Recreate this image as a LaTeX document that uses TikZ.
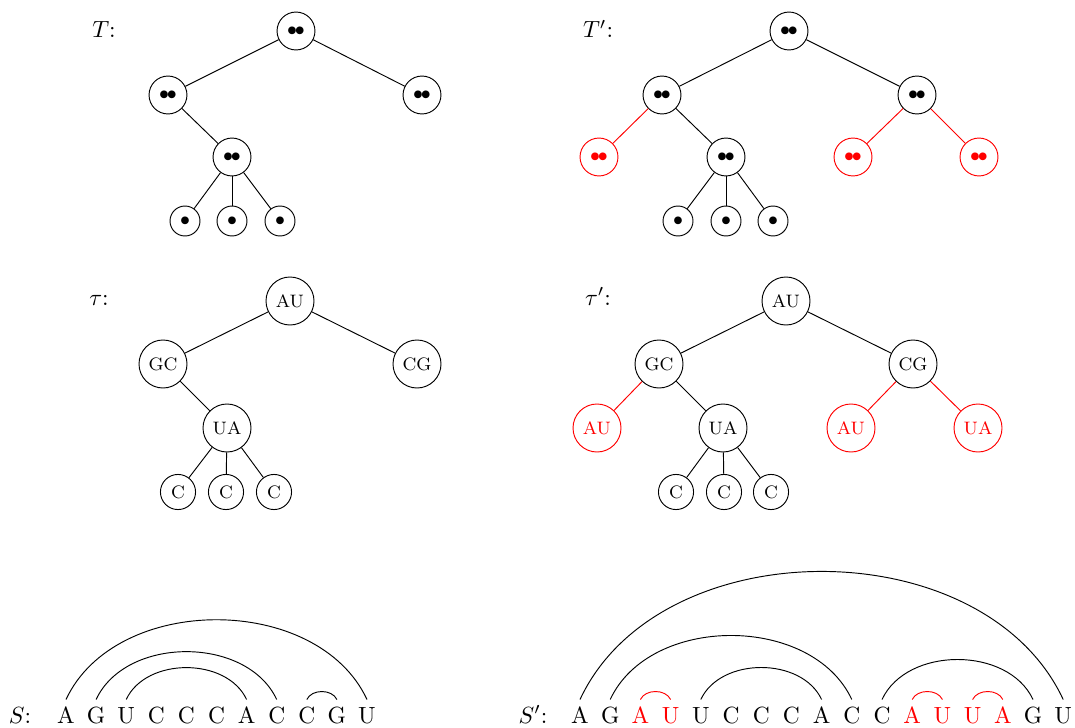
\documentclass[tikz,border=0pt]{standalone}
\newcommand{\pdot}{{\fontsize{8.5}{10}\selectfont${\bullet}\mkern-2mu{\bullet}$}}
\newcommand{\sdot}{{\fontsize{8.5}{10}\selectfont$\bullet$}}
\begin{document}
\begin{tikzpicture}[x=0.427pt,y=-0.427pt,
    big/.style = {draw, circle, minimum size=16.2pt, inner sep=0pt},
    small/.style = {draw, circle, minimum size=12.8pt, inner sep=0pt},
    pair/.style = {draw, circle, minimum size=20.5pt, inner sep=0pt, font=\fontsize{7.7}{9}\selectfont},
    base/.style = {draw, circle, minimum size=15pt, inner sep=0pt, font=\fontsize{7.7}{9}\selectfont},
    new/.style = {red},
    letter/.style = {anchor=base, inner sep=3pt, text height=6.83pt, text depth=0pt},
    bond/.style = {out=65, in=115}]
    \useasboundingbox (0,0) rectangle (1075,727);
    % tree T
    \node[anchor=base] (lT) at (104,38) {$T$:};
    \node[big] (t1) at (296,31) {\pdot};
    \node[big] (t2) at (168,95) {\pdot};
    \node[big] (t3) at (422,95) {\pdot};
    \node[big] (t4) at (232,157) {\pdot};
    \node[small] (t5) at (185,221) {\sdot};
    \node[small] (t6) at (232,221) {\sdot};
    \node[small] (t7) at (280,221) {\sdot};
    \draw (t1) -- (t2);
    \draw (t1) -- (t3);
    \draw (t2) -- (t4);
    \draw (t4) -- (t5);
    \draw (t4) -- (t6);
    \draw (t4) -- (t7);
    % tree T'
    \node[anchor=base] (lT') at (598,38) {$T'$:};
    \node[big] (u1) at (789,31) {\pdot};
    \node[big] (u2) at (662,95) {\pdot};
    \node[big] (u3) at (917,95) {\pdot};
    \node[big,new] (u4) at (599,157) {\pdot};
    \node[big] (u5) at (726,157) {\pdot};
    \node[big,new] (u6) at (853,157) {\pdot};
    \node[big,new] (u7) at (979,157) {\pdot};
    \node[small] (u8) at (678,221) {\sdot};
    \node[small] (u9) at (726,221) {\sdot};
    \node[small] (u10) at (773,221) {\sdot};
    \draw (u1) -- (u2);
    \draw (u1) -- (u3);
    \draw[new] (u2) -- (u4);
    \draw (u2) -- (u5);
    \draw[new] (u3) -- (u6);
    \draw[new] (u3) -- (u7);
    \draw (u5) -- (u8);
    \draw (u5) -- (u9);
    \draw (u5) -- (u10);
    % tree tau
    \node[anchor=base] (ltau) at (99,305) {$\tau$:};
    \node[pair] (a1) at (290,301) {AU};
    \node[pair] (a2) at (163,364) {GC};
    \node[pair] (a3) at (417,364) {CG};
    \node[pair] (a4) at (227,428) {UA};
    \node[base] (a5) at (178,492) {C};
    \node[base] (a6) at (226,492) {C};
    \node[base] (a7) at (274,492) {C};
    \draw (a1) -- (a2);
    \draw (a1) -- (a3);
    \draw (a2) -- (a4);
    \draw (a4) -- (a5);
    \draw (a4) -- (a6);
    \draw (a4) -- (a7);
    % tree tau'
    \node[anchor=base] (ltau') at (598,305) {$\tau'$:};
    \node[pair] (b1) at (786,301) {AU};
    \node[pair] (b2) at (659,364) {GC};
    \node[pair] (b3) at (913,364) {CG};
    \node[pair,new] (b4) at (597,428) {AU};
    \node[pair] (b5) at (723,428) {UA};
    \node[pair,new] (b6) at (851,428) {AU};
    \node[pair,new] (b7) at (978,428) {UA};
    \node[base] (b8) at (676,492) {C};
    \node[base] (b9) at (724,492) {C};
    \node[base] (b10) at (771,492) {C};
    \draw (b1) -- (b2);
    \draw (b1) -- (b3);
    \draw[new] (b2) -- (b4);
    \draw (b2) -- (b5);
    \draw[new] (b3) -- (b6);
    \draw[new] (b3) -- (b7);
    \draw (b5) -- (b8);
    \draw (b5) -- (b9);
    \draw (b5) -- (b10);
    % sequence S
    \node[anchor=base] (lS) at (20,723) {$S$:};
    \foreach \c [count=\i from 0] in {A,G,U,C,C,C,A,C,C,G,U}
        \node[letter] (s\i) at (66+30.1*\i,723) {\c};
    \draw (s0.north) to[bond] (s10.north);
    \draw (s1.north) to[bond] (s7.north);
    \draw (s2.north) to[bond] (s6.north);
    \draw (s8.north) to[bond] (s9.north);
    % sequence S'
    \node[anchor=base] (lS') at (533,723) {$S'$:};
    \foreach \c/\col [count=\i from 0] in {A/black,G/black,A/red,U/red,U/black,C/black,C/black,C/black,A/black,C/black,C/black,A/red,U/red,U/red,A/red,G/black,U/black}
        \node[letter,text=\col] (r\i) at (580+30.2*\i,723) {\c};
    \draw (r0.north) to[bond] (r16.north);
    \draw (r1.north) to[bond] (r9.north);
    \draw[new] (r2.north) to[bond] (r3.north);
    \draw (r4.north) to[bond] (r8.north);
    \draw (r10.north) to[bond] (r15.north);
    \draw[new] (r11.north) to[bond] (r12.north);
    \draw[new] (r13.north) to[bond] (r14.north);
    %\draw (r5.north) to[bond] (r7.north);
\end{tikzpicture}
\end{document}
